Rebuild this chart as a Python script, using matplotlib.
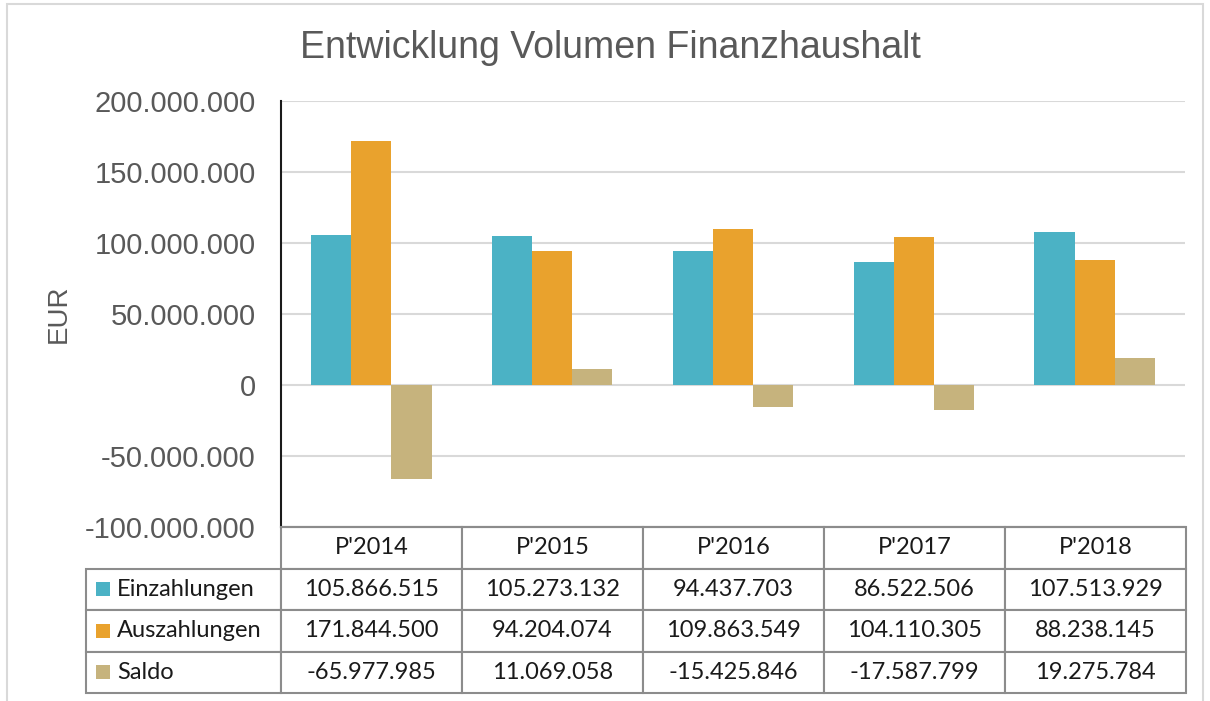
import matplotlib
matplotlib.use("Agg")
import matplotlib.pyplot as plt
import numpy as np
from matplotlib.patches import Rectangle
from matplotlib.table import Table
from matplotlib.ticker import FuncFormatter, MultipleLocator

# data
jahre = ["P'2014", "P'2015", "P'2016", "P'2017", "P'2018"]
einzahlungen = [105866515, 105273132, 94437703, 86522506, 107513929]
auszahlungen = [171844500, 94204074, 109863549, 104110305, 88238145]
saldo = [-65977985, 11069058, -15425846, -17587799, 19275784]
reihen = ["Einzahlungen", "Auszahlungen", "Saldo"]
farben = ["#4BB2C5", "#E9A22D", "#C6B37D"]


def de_format(v, pos=None):
    return f"{int(round(v)):,}".replace(",", ".")


fig = plt.figure(figsize=(12.1, 7.01), dpi=100)
fig.patch.set_facecolor("white")
# light frame round the chart
fig.add_artist(Rectangle((7 / 1210, -0.01), 1196 / 1210, 1 - 4 / 701 + 0.01,
                         transform=fig.transFigure, fill=False,
                         edgecolor="#D9D9D9", lw=1.5))

AX_W, AX_H = 904, 426
ax = fig.add_axes([281 / 1210, 1 - 527 / 701, AX_W / 1210, AX_H / 701])

x = np.arange(len(jahre))
w = 0.222
for i, (werte, farbe) in enumerate(zip([einzahlungen, auszahlungen, saldo], farben)):
    ax.bar(x + (i - 1) * w, werte, width=w, color=farbe, zorder=3)

ax.set_xlim(-0.5, len(jahre) - 0.5)
ax.set_ylim(-100000000, 200000000)
ax.yaxis.set_major_locator(MultipleLocator(50000000))
ax.yaxis.set_major_formatter(FuncFormatter(de_format))
ax.tick_params(axis="y", length=0, pad=18, labelsize=21, labelcolor="#595959")
ax.set_xticks([])
for lab in ax.get_yticklabels():
    lab.set_fontfamily("Liberation Sans")

ax.grid(axis="y", color="#D9D9D9", lw=1.5, zorder=0)
for s in ["top", "right"]:
    ax.spines[s].set_visible(False)
ax.spines["left"].set_color("#1a1a1a")
ax.spines["left"].set_linewidth(1.5)
ax.spines["bottom"].set_color("#8C8C8C")
ax.spines["bottom"].set_linewidth(1.5)

ax.set_ylabel("EUR", fontsize=20, color="#595959", family="Liberation Sans")
ax.yaxis.set_label_coords((72 - 281) / AX_W, 0.5)

fig.text(610 / 1210, 1 - 48 / 701, "Entwicklung Volumen Finanzhaushalt",
         ha="center", va="center", fontsize=27, color="#595959",
         family="Liberation Sans")

# data table under the chart (pixel sizes converted to axes fractions)
lab_w = (281 - 86) / AX_W
col_w = 181 / AX_W
row_h = 41.5 / AX_H
tab = Table(ax)
tab.auto_set_font_size(False)
tab.set_fontsize(17)
for j, jahr in enumerate(jahre):
    tab.add_cell(0, j + 1, col_w, row_h, text=jahr, loc="center")
for i, (name, reihe) in enumerate(zip(reihen, [einzahlungen, auszahlungen, saldo])):
    zelle = tab.add_cell(i + 1, 0, lab_w, row_h, text=name, loc="left")
    zelle.PAD = 31 / 195
    for j, v in enumerate(reihe):
        tab.add_cell(i + 1, j + 1, col_w, row_h, text=de_format(v), loc="center")
for (r, c), cell in tab.get_celld().items():
    cell.set_edgecolor("#8C8C8C")
    cell.set_linewidth(1.5)
    cell.get_text().set_fontsize(17)
    cell.get_text().set_fontfamily("Lato")
    cell.get_text().set_color("#1a1a1a")
# place table: left edge at x=86px, top at axes bottom
tab._loc = 0
tab.set_transform(ax.transAxes)
x0 = (86 - 281) / AX_W
for (r, c), cell in tab.get_celld().items():
    cell.set_x(x0 + (lab_w + (c - 1) * col_w if c > 0 else 0))
    cell.set_y(-(r + 1) * row_h)
tab._update_positions = lambda renderer: None
ax.add_table(tab)

# legend squares in the row label cells
for i, farbe in enumerate(farben):
    yc = -(1.5 + i) * row_h
    ax.add_patch(Rectangle(((96 - 281) / AX_W, yc - 7 / AX_H), 14 / AX_W, 14 / AX_H,
                           transform=ax.transAxes, clip_on=False,
                           facecolor=farbe, edgecolor="none", zorder=5))

fig.savefig("out.png", dpi=100, facecolor="white")
